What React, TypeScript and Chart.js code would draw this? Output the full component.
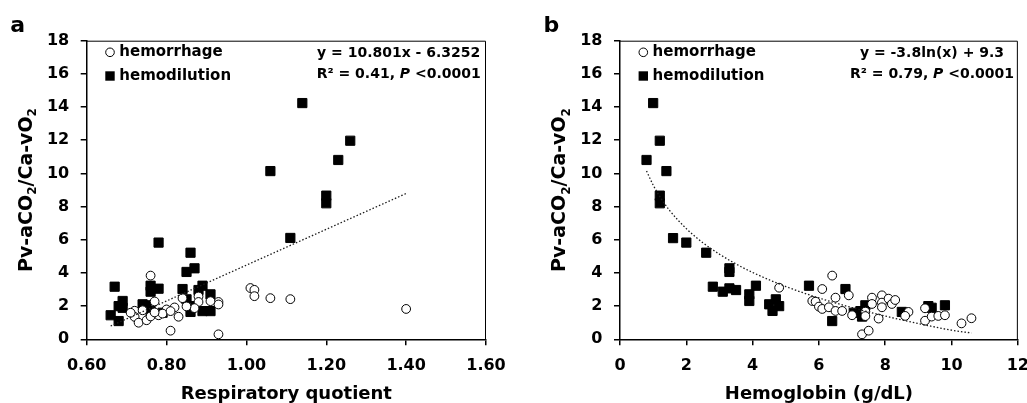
import React, { useEffect, useRef } from 'react';
import { Chart, registerables } from 'chart.js';

Chart.register(...registerables);

const FONT = '"DejaVu Sans", sans-serif';

// ---------- Panel a: Respiratory quotient ----------
const rqHemorrhageX = [1.40, 0.93, 0.81, 1.01, 1.02, 1.02, 1.06, 1.11, 0.76, 0.77, 0.93, 0.93, 0.88, 0.88, 0.91, 0.84, 0.83, 0.87, 0.82, 0.80, 0.78, 0.79, 0.72, 0.72, 0.73, 0.75, 0.76, 0.74, 0.71, 0.77, 0.81, 0.85];
const rqHemorrhageY = [1.83, 0.30, 0.52, 3.09, 2.98, 2.60, 2.48, 2.42, 3.84, 2.28, 2.25, 2.10, 2.58, 2.25, 2.30, 2.48, 1.36, 1.88, 1.92, 1.80, 1.45, 1.55, 1.72, 1.35, 1.00, 1.15, 1.38, 1.75, 1.60, 1.62, 1.70, 1.98];
const rqHemodilutionX = [1.14, 1.26, 1.23, 1.06, 1.20, 1.20, 1.11, 0.78, 0.86, 0.87, 0.85, 0.67, 0.76, 0.78, 0.76, 0.84, 0.89, 0.88, 0.91, 0.69, 0.68, 0.69, 0.74, 0.75, 0.76, 0.79, 0.66, 0.68, 0.85, 0.86, 0.86, 0.89, 0.91];
const rqHemodilutionY = [14.24, 11.97, 10.81, 10.14, 8.66, 8.20, 6.11, 5.83, 5.22, 4.28, 4.06, 3.17, 3.23, 3.05, 2.87, 3.03, 3.23, 2.97, 2.71, 2.31, 2.00, 1.90, 2.11, 2.05, 1.70, 1.60, 1.45, 1.10, 2.41, 2.00, 1.65, 1.70, 1.70];
const rqTrendX = [0.66, 1.40];
const rqTrendY = [0.80, 8.79];
const rqTickValues = [0.6, 0.8, 1.0, 1.2, 1.4, 1.6];
const rqTickLabels = ['0.60', '0.80', '1.00', '1.20', '1.40', '1.60'];

// ---------- Panel b: Hemoglobin ----------
const hbHemorrhageX = [4.8, 6.4, 6.1, 6.5, 5.8, 5.9, 6.0, 6.1, 6.3, 6.5, 6.7, 6.9, 7.0, 7.3, 7.5, 7.6, 7.6, 7.9, 7.9, 7.9, 7.8, 8.1, 8.2, 8.3, 8.7, 8.6, 9.2, 9.2, 9.4, 9.6, 9.8, 10.3, 10.6, 7.4, 7.4];
const hbHemorrhageY = [3.11, 3.84, 3.03, 2.51, 2.31, 2.27, 1.97, 1.83, 1.93, 1.71, 1.71, 2.65, 1.45, 0.30, 0.52, 2.51, 2.13, 2.65, 2.21, 1.93, 1.25, 2.45, 2.13, 2.37, 1.65, 1.41, 1.87, 1.12, 1.37, 1.41, 1.45, 0.96, 1.27, 1.67, 1.40];
const hbHemodilutionX = [1.0, 1.2, 0.8, 1.4, 1.2, 1.2, 1.6, 2.0, 2.6, 3.3, 3.3, 2.8, 3.1, 3.3, 3.5, 4.1, 3.9, 3.9, 4.5, 4.6, 4.7, 4.8, 5.7, 6.8, 6.4, 7.05, 7.25, 7.3, 7.4, 8.5, 9.3, 9.4, 9.8];
const hbHemodilutionY = [14.24, 11.97, 10.81, 10.14, 8.66, 8.20, 6.10, 5.83, 5.22, 4.28, 4.06, 3.17, 2.87, 3.07, 2.97, 3.23, 2.71, 2.31, 2.11, 1.71, 2.41, 2.00, 3.23, 3.03, 1.10, 1.60, 1.70, 1.37, 2.05, 1.65, 2.00, 1.90, 2.05];
const hbTrendX = [0.8, 1.0, 1.25, 1.5, 2.0, 2.5, 3.0, 3.5, 4.0, 5.0, 6.0, 7.0, 8.0, 9.0, 10.0, 10.6];
const hbTrendY = [10.15, 9.3, 8.45, 7.76, 6.67, 5.82, 5.13, 4.54, 4.03, 3.18, 2.49, 1.91, 1.40, 0.95, 0.55, 0.38];
const hbTickValues = [0, 2, 4, 6, 8, 10, 12];
const hbTickLabels = ['0', '2', '4', '6', '8', '10', '12'];

const yTickValues = [0, 2, 4, 6, 8, 10, 12, 14, 16, 18];
const yTickLabels = ['0', '2', '4', '6', '8', '10', '12', '14', '16', '18'];

const seriesNames = ['hemorrhage', 'hemodilution'];

type Seg = { t: string; f: string; dy?: number };

function measureSegs(ctx: CanvasRenderingContext2D, segs: Seg[]) {
  let w = 0;
  for (const s of segs) {
    ctx.font = s.f;
    w += ctx.measureText(s.t).width;
  }
  return w;
}

function drawSegs(ctx: CanvasRenderingContext2D, segs: Seg[], x: number, y: number) {
  let cx = x;
  for (const s of segs) {
    ctx.font = s.f;
    ctx.fillText(s.t, cx, y + (s.dy || 0));
    cx += ctx.measureText(s.t).width;
  }
}

const zip = (xs: number[], ys: number[]) => xs.map((x, i) => ({ x, y: ys[i] }));

interface PanelSpec {
  label: string;
  xTitle: string;
  eq1: Seg[];
  eq2: Seg[];
  hemX: number[];
  hemY: number[];
  dilX: number[];
  dilY: number[];
  trX: number[];
  trY: number[];
  xMin: number;
  xMax: number;
  xTicks: number[];
  xLabels: string[];
  padLeft: number;
  padRight: number;
}

const B14 = `bold 14px ${FONT}`;
const BI14 = `italic bold 14px ${FONT}`;

function makeConfig(p: PanelSpec): any {
  const decor = {
    id: 'decor',
    afterDraw(chart: any) {
      const ctx: CanvasRenderingContext2D = chart.ctx;
      const a = chart.chartArea;
      ctx.save();
      // frame
      ctx.strokeStyle = '#000';
      ctx.lineWidth = 1;
      ctx.beginPath();
      ctx.moveTo(a.left, a.top + 0.5);
      ctx.lineTo(a.right - 0.5, a.top + 0.5);
      ctx.lineTo(a.right - 0.5, a.bottom);
      ctx.stroke();

      ctx.fillStyle = '#000';
      ctx.textBaseline = 'middle';
      ctx.textAlign = 'left';
      // legend
      ctx.beginPath();
      ctx.arc(a.left + 23.3, 52.3, 4.3, 0, Math.PI * 2);
      ctx.fillStyle = '#fff';
      ctx.fill();
      ctx.strokeStyle = '#000';
      ctx.lineWidth = 1;
      ctx.stroke();
      ctx.fillStyle = '#000';
      ctx.fillRect(a.left + 23.3 - 4.7, 76 - 4.7, 9.4, 9.4);
      ctx.font = `bold 15px ${FONT}`;
      ctx.fillText(seriesNames[0], a.left + 32.6, 52.3);
      ctx.fillText(seriesNames[1], a.left + 32.6, 76);

      // equation
      const cx = a.left + 312;
      const w1 = measureSegs(ctx, p.eq1);
      drawSegs(ctx, p.eq1, cx - w1 / 2, 53.3);
      const w2 = measureSegs(ctx, p.eq2);
      drawSegs(ctx, p.eq2, cx - w2 / 2, 74);

      // panel label
      ctx.textBaseline = 'alphabetic';
      ctx.font = `bold 22px ${FONT}`;
      ctx.fillText(p.label, a.left - 76.5, 31.7);

      // y title with subscripts
      const main = `bold 19px ${FONT}`;
      const sub = `bold 12px ${FONT}`;
      const ysegs: Seg[] = [
        { t: 'Pv-aCO', f: main },
        { t: '2', f: sub, dy: 4.5 },
        { t: '/Ca-vO', f: main },
        { t: '2', f: sub, dy: 4.5 },
      ];
      const tw = measureSegs(ctx, ysegs);
      ctx.translate(a.left - 62, (a.top + a.bottom) / 2);
      ctx.rotate(-Math.PI / 2);
      drawSegs(ctx, ysegs, -tw / 2, 7);
      ctx.restore();
    },
  };

  const tickFont = { family: FONT, size: 16, weight: 'bold' as const };

  return {
    type: 'scatter',
    data: {
      datasets: [
        {
          type: 'line',
          label: 'trend',
          data: zip(p.trX, p.trY),
          showLine: true,
          pointRadius: 0,
          borderColor: '#1a1a1a',
          borderWidth: 1.3,
          borderDash: [1.5, 2],
          cubicInterpolationMode: 'monotone',
          fill: false,
          order: 0,
        },
        {
          label: seriesNames[0],
          data: zip(p.hemX, p.hemY),
          pointStyle: 'circle',
          pointRadius: 4.4,
          pointBackgroundColor: '#fff',
          pointBorderColor: '#000',
          pointBorderWidth: 1,
          order: 1,
        },
        {
          label: seriesNames[1],
          data: zip(p.dilX, p.dilY),
          pointStyle: 'rect',
          pointRadius: 6.5,
          pointBackgroundColor: '#000',
          pointBorderColor: '#000',
          pointBorderWidth: 1,
          order: 2,
        },
      ],
    },
    options: {
      animation: false,
      responsive: false,
      devicePixelRatio: 1,
      layout: { padding: { left: p.padLeft, right: p.padRight, top: 40.7, bottom: 0 } },
      plugins: { legend: { display: false }, tooltip: { enabled: false } },
      scales: {
        x: {
          type: 'linear',
          min: p.xMin,
          max: p.xMax,
          afterBuildTicks: (s: any) => {
            s.ticks = p.xTicks.map((v) => ({ value: v }));
          },
          afterFit: (s: any) => {
            s.height = 63.7;
          },
          grid: { drawOnChartArea: false, drawTicks: true, tickLength: 6, color: '#000', lineWidth: 1.5 },
          border: { display: true, color: '#000', width: 1.5 },
          ticks: {
            font: tickFont,
            color: '#000',
            padding: 11,
            maxRotation: 0,
            autoSkip: false,
            callback: (_v: any, i: number) => p.xLabels[i],
          },
          title: {
            display: true,
            text: p.xTitle,
            color: '#000',
            font: { family: FONT, size: 18, weight: 'bold', lineHeight: 1 },
            padding: 0,
          },
        },
        y: {
          type: 'linear',
          min: 0,
          max: 18,
          afterBuildTicks: (s: any) => {
            s.ticks = yTickValues.map((v) => ({ value: v }));
          },
          afterFit: (s: any) => {
            s.width = 80;
          },
          grid: { drawOnChartArea: false, drawTicks: true, tickLength: 6, color: '#000', lineWidth: 1.5 },
          border: { display: true, color: '#000', width: 1.5 },
          ticks: {
            font: tickFont,
            color: '#000',
            padding: 11.5,
            autoSkip: false,
            callback: (_v: any, i: number) => yTickLabels[i],
          },
        },
      },
    },
    plugins: [decor],
  };
}

const panelA: PanelSpec = {
  label: 'a',
  xTitle: 'Respiratory quotient',
  eq1: [{ t: 'y = 10.801x - 6.3252', f: B14 }],
  eq2: [
    { t: 'R² = 0.41, ', f: B14 },
    { t: 'P', f: BI14 },
    { t: ' <0.0001', f: B14 },
  ],
  hemX: rqHemorrhageX,
  hemY: rqHemorrhageY,
  dilX: rqHemodilutionX,
  dilY: rqHemodilutionY,
  trX: rqTrendX,
  trY: rqTrendY,
  xMin: 0.6,
  xMax: 1.6,
  xTicks: rqTickValues,
  xLabels: rqTickLabels,
  padLeft: 6.7,
  padRight: 34,
};

const panelB: PanelSpec = {
  label: 'b',
  xTitle: 'Hemoglobin (g/dL)',
  eq1: [{ t: 'y = -3.8ln(x) + 9.3', f: B14 }],
  eq2: [
    { t: 'R² = 0.79, ', f: B14 },
    { t: 'P', f: BI14 },
    { t: ' <0.0001', f: B14 },
  ],
  hemX: hbHemorrhageX,
  hemY: hbHemorrhageY,
  dilX: hbHemodilutionX,
  dilY: hbHemodilutionY,
  trX: hbTrendX,
  trY: hbTrendY,
  xMin: 0,
  xMax: 12,
  xTicks: hbTickValues,
  xLabels: hbTickLabels,
  padLeft: 20,
  padRight: 20.7,
};

function Panel({ spec, left }: { spec: PanelSpec; left: number }) {
  const ref = useRef<HTMLCanvasElement | null>(null);
  useEffect(() => {
    if (!ref.current) return;
    const chart = new Chart(ref.current, makeConfig(spec));
    return () => chart.destroy();
  }, [spec]);
  return (
    <canvas
      ref={ref}
      width={520}
      height={403}
      style={{ position: 'absolute', left, top: 0, width: 520, height: 403 }}
    />
  );
}

export default function App() {
  return (
    <div
      style={{
        position: 'absolute',
        left: 0,
        top: 0,
        width: 1027,
        height: 403,
        overflow: 'hidden',
        background: '#fff',
      }}
    >
      <Panel spec={panelA} left={0} />
      <Panel spec={panelB} left={520} />
    </div>
  );
}
